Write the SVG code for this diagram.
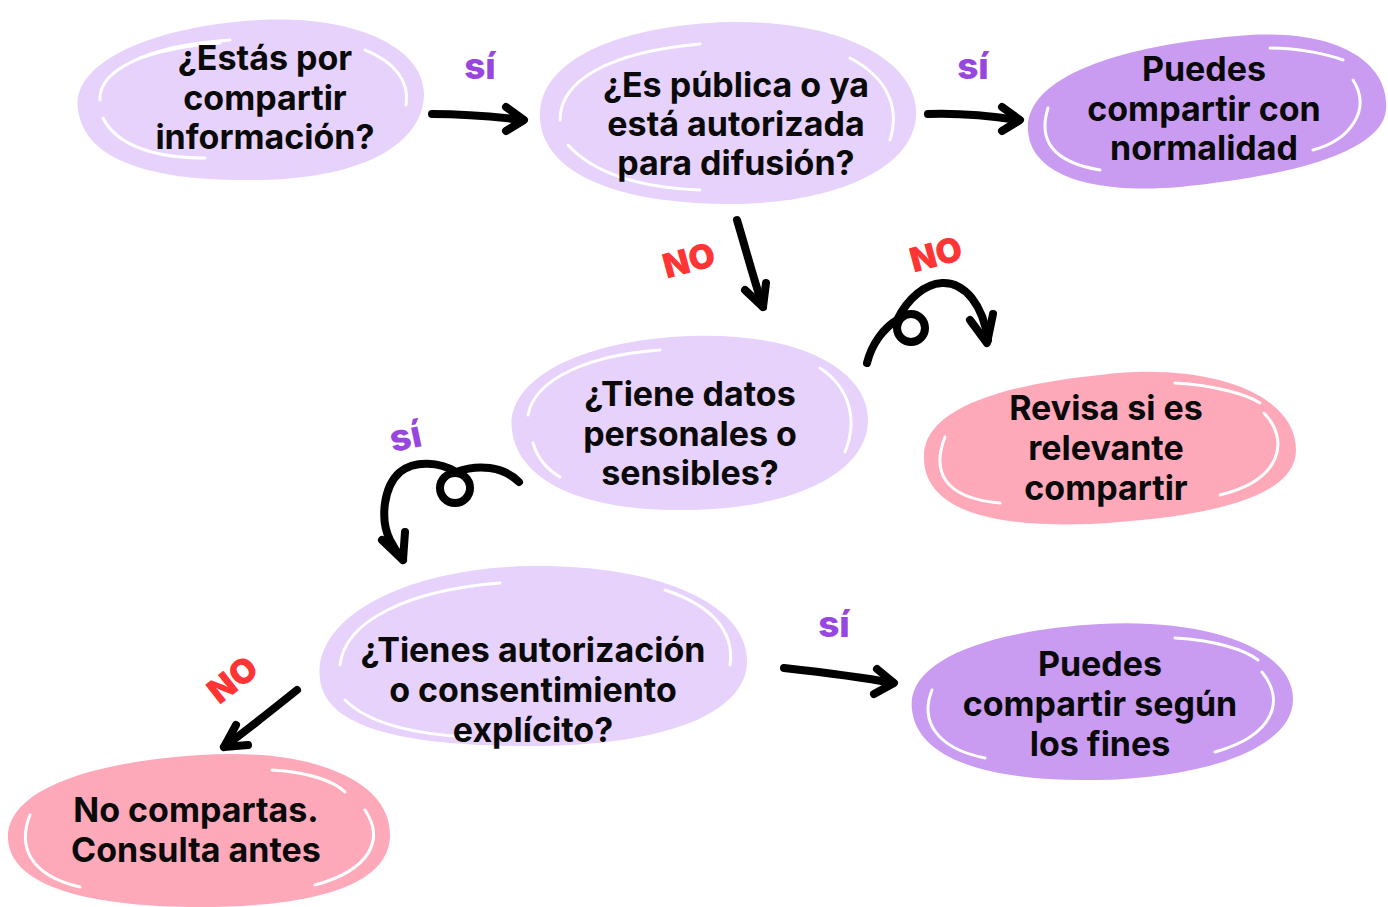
<svg xmlns="http://www.w3.org/2000/svg" width="1388" height="907" viewBox="0 0 1388 907">
<style>
.light{fill:#E7D2FB}
.dark{fill:#C99CF2}
.pink{fill:#FEA9BA}
.hl{fill:none;stroke:#FFFFFF;stroke-width:3;stroke-linecap:round}
.t{font-family:Inter,"Liberation Sans",sans-serif;font-weight:700;font-size:34px;fill:#0A0A0A;text-anchor:middle}
.si{font-family:Inter,"Liberation Sans",sans-serif;font-weight:800;font-size:37px;fill:#9747E0;text-anchor:middle}
.no{font-family:Inter,"Liberation Sans",sans-serif;font-weight:900;font-size:34px;fill:#FF3434;text-anchor:middle}
.c{fill:none;stroke:#000;stroke-width:8;stroke-linecap:round;stroke-linejoin:round}
</style>
<rect width="1388" height="907" fill="#FFFFFF"/>

<g id="n1">
<path class="light" d="M 78,110 C 70,60 160,25 260,20 C 360,15 425,50 424,95 C 423,140 370,178 260,180 C 150,182 85,160 78,110 Z"/>
<path class="hl" d="M 100,100 C 98,70 150,45 230,40"/>
<path class="hl" d="M 140,58 C 170,48 200,44 220,43"/>
<path class="hl" d="M 365,50 C 395,62 410,82 406,105"/>
<path class="hl" d="M 103,118 C 118,148 160,158 205,158"/>
<text class="t" x="265" y="70">¿Estás por</text>
<text class="t" x="265" y="110">compartir</text>
<text class="t" x="265" y="149">información?</text>
</g>

<g id="n2">
<path class="light" d="M 540,120 C 535,60 620,25 730,22 C 840,20 918,60 916,115 C 914,170 830,205 725,204 C 620,203 545,175 540,120 Z"/>
<path class="hl" d="M 560,120 C 560,80 610,52 700,44"/>
<path class="hl" d="M 850,58 C 888,78 900,108 890,140"/>
<path class="hl" d="M 568,145 C 598,178 650,188 700,190"/>
<text class="t" x="736" y="97">¿Es pública o ya</text>
<text class="t" x="736" y="136">está autorizada</text>
<text class="t" x="736" y="175">para difusión?</text>
</g>

<g id="n3">
<path class="dark" d="M 1028,130 C 1025,80 1110,45 1250,35 C 1350,30 1390,70 1386,110 C 1382,150 1300,175 1180,187 C 1080,195 1030,170 1028,130 Z"/>
<path class="hl" d="M 1048,108 C 1038,140 1052,162 1100,170"/>
<path class="hl" d="M 1270,48 C 1300,48 1330,55 1343,60"/>
<path class="hl" d="M 1353,80 C 1372,110 1350,140 1313,150"/>
<text class="t" x="1204" y="81">Puedes</text>
<text class="t" x="1204" y="121">compartir con</text>
<text class="t" x="1204" y="160">normalidad</text>
</g>

<g id="n4">
<path class="light" d="M 512,430 C 505,380 580,340 690,336 C 800,332 868,370 868,420 C 868,470 800,508 690,510 C 580,512 518,480 512,430 Z"/>
<path class="hl" d="M 528,415 C 535,378 590,355 660,350"/>
<path class="hl" d="M 533,443 C 538,460 548,470 560,477"/>
<path class="hl" d="M 820,368 C 850,388 858,420 845,452"/>
<text class="t" x="690" y="406">¿Tiene datos</text>
<text class="t" x="690" y="446">personales o</text>
<text class="t" x="690" y="485">sensibles?</text>
</g>

<g id="n5">
<path class="pink" d="M 924,460 C 920,410 1000,385 1100,375 C 1200,362 1296,390 1296,450 C 1296,500 1200,518 1090,524 C 980,528 926,505 924,460 Z"/>
<path class="hl" d="M 945,437 C 932,470 942,498 1000,503"/>
<path class="hl" d="M 1175,383 C 1215,385 1248,395 1260,403"/>
<path class="hl" d="M 1264,413 C 1290,440 1282,480 1220,495"/>
<text class="t" x="1106" y="420">Revisa si es</text>
<text class="t" x="1106" y="460">relevante</text>
<text class="t" x="1106" y="500">compartir</text>
</g>

<g id="n6">
<path class="light" d="M 320,680 C 312,615 410,568 530,566 C 650,564 746,600 747,660 C 748,715 660,746 530,746 C 410,746 327,730 320,680 Z"/>
<path class="hl" d="M 340,665 C 345,620 410,590 500,583"/>
<path class="hl" d="M 665,590 C 710,605 735,630 730,665"/>
<path class="hl" d="M 345,700 C 370,725 420,735 470,737"/>
<text class="t" x="533" y="662">¿Tienes autorización</text>
<text class="t" x="533" y="702">o consentimiento</text>
<text class="t" x="533" y="742">explícito?</text>
</g>

<g id="n7">
<path class="dark" d="M 912,710 C 905,660 990,630 1100,624 C 1210,618 1294,650 1293,700 C 1292,750 1200,778 1100,780 C 990,782 918,760 912,710 Z"/>
<path class="hl" d="M 932,690 C 920,720 935,748 985,758"/>
<path class="hl" d="M 1175,638 C 1215,640 1245,650 1258,660"/>
<path class="hl" d="M 1262,672 C 1285,700 1275,735 1215,752"/>
<text class="t" x="1100" y="676">Puedes</text>
<text class="t" x="1100" y="716">compartir según</text>
<text class="t" x="1100" y="756">los fines</text>
</g>

<g id="n8">
<path class="pink" d="M 8,840 C 5,790 90,762 200,755 C 300,748 390,775 390,835 C 390,890 300,907 200,907 C 100,907 12,890 8,840 Z"/>
<path class="hl" d="M 30,815 C 18,845 28,875 80,887"/>
<path class="hl" d="M 272,770 C 310,772 335,782 345,792"/>
<path class="hl" d="M 365,810 C 385,840 370,870 315,885"/>
<text class="t" x="196" y="822">No compartas.</text>
<text class="t" x="196" y="862">Consulta antes</text>
</g>

<g id="connectors">
<path class="c" d="M 432,114 C 460,114 490,116 522,120"/>
<path class="c" d="M 506,107 L 524,120 L 506,131"/>
<path class="c" d="M 928,114 C 955,113 985,115 1018,120"/>
<path class="c" d="M 1002,107 L 1020,120 L 1002,131"/>
<path class="c" d="M 737,220 C 746,250 754,280 763,307"/>
<path class="c" d="M 745,290 L 763,307 L 766,283"/>
<path class="c" d="M 867,363 C 872,343 884,328 897,320 C 908,298 925,284 942,283 C 965,282 983,305 988,340"/>
<circle class="c" cx="911" cy="328" r="14"/>
<path class="c" d="M 970,320 L 987,343 L 993,314"/>
<path class="c" d="M 519,482 C 503,466 478,464 456,472 C 440,462 415,460 400,472 C 383,487 380,520 390,540 C 395,550 400,556 403,560"/>
<circle class="c" cx="455" cy="488" r="15"/>
<path class="c" d="M 382,540 L 403,560 L 405,532"/>
<path class="c" d="M 297,690 C 272,710 247,730 224,747"/>
<path class="c" d="M 236,725 L 224,747 L 248,745"/>
<path class="c" d="M 784,668 C 820,672 855,676 893,683"/>
<path class="c" d="M 877,669 L 894,683 L 874,694"/>
<text class="si" x="480" y="79">sí</text>
<text class="si" x="973" y="79">sí</text>
<text class="si" x="834" y="637">sí</text>
<text class="si" x="0" y="0" transform="translate(408,449) rotate(-12)">sí</text>
<text class="no" x="0" y="0" transform="translate(692,272) rotate(-15)">NO</text>
<text class="no" x="0" y="0" transform="translate(939,266) rotate(-15)">NO</text>
<text class="no" x="0" y="0" transform="translate(240,689) rotate(-38)">NO</text>
</g>
</svg>
